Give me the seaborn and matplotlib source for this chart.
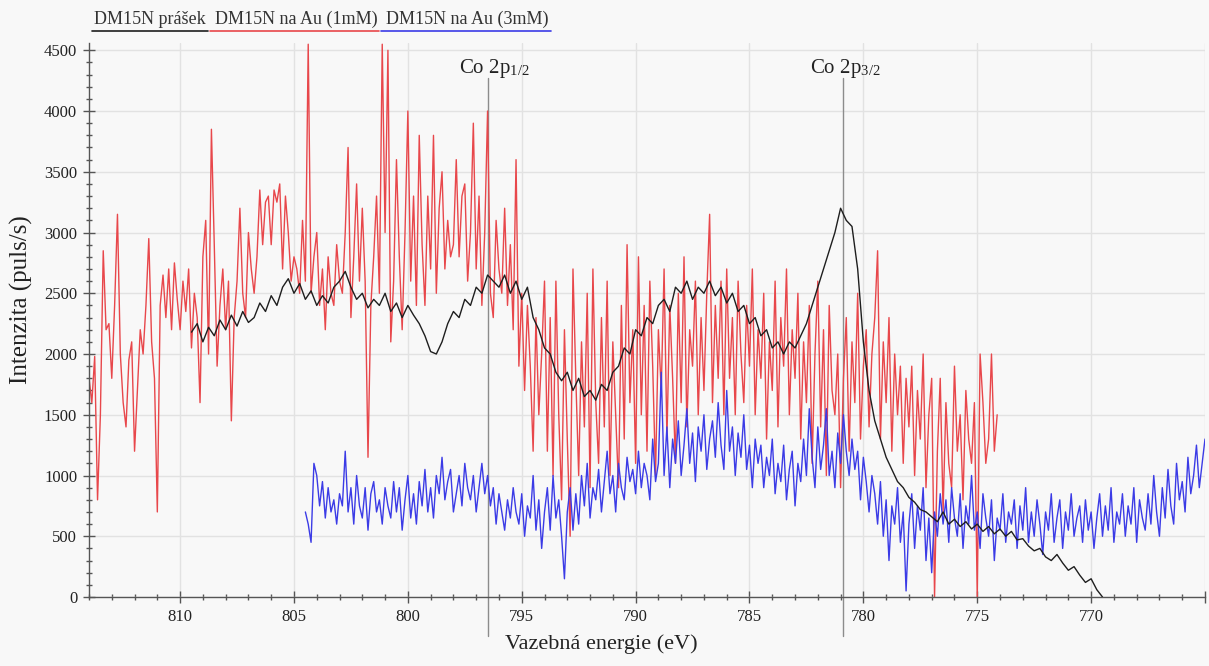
import numpy as np
import pandas as pd
import matplotlib
matplotlib.use("Agg")
import matplotlib.pyplot as plt
from matplotlib.lines import Line2D
from matplotlib.ticker import MultipleLocator
import seaborn as sns

# Co 2p spectra, binding energy decreasing from each start value
powder_start, powder_step = 809.5, 0.25
powder_counts = [
    2180, 2250, 2100, 2220, 2150, 2280, 2200, 2320, 2230, 2350, 2260, 2300, 2420, 2350, 2480, 2400,
    2550, 2620, 2500, 2580, 2450, 2520, 2400, 2480, 2420, 2550, 2600, 2680, 2550, 2450, 2500, 2380,
    2450, 2400, 2500, 2350, 2420, 2300, 2400, 2320, 2250, 2150, 2020, 2000, 2100, 2250, 2350, 2300,
    2450, 2400, 2550, 2500, 2650, 2600, 2550, 2650, 2500, 2600, 2450, 2550, 2300, 2200, 2050, 2000,
    1850, 1780, 1850, 1700, 1800, 1650, 1700, 1620, 1750, 1700, 1850, 1900, 2050, 2000, 2200, 2150,
    2300, 2250, 2400, 2450, 2350, 2550, 2500, 2600, 2450, 2550, 2500, 2600, 2480, 2550, 2420, 2500,
    2350, 2400, 2250, 2300, 2150, 2200, 2050, 2100, 2000, 2100, 2050, 2150, 2250, 2400, 2550, 2700,
    2850, 3000, 3200, 3100, 3050, 2700, 2100, 1700, 1450, 1300, 1150, 1050, 950, 900, 820, 780,
    720, 700, 660, 620, 700, 600, 640, 580, 620, 560, 600, 540, 580, 520, 560, 500,
    540, 470, 480, 420, 380, 400, 330, 300, 350, 280, 220, 250, 180, 120, 150, 60,
    0,
]

au1_start, au1_step = 814.0, 0.125
au1_counts = [
    1800, 1600, 1980, 800, 1500, 2850, 2200, 2250, 1800, 2400, 3150, 2000, 1600, 1400, 1950, 2100,
    1200, 1700, 2200, 2000, 2400, 2950, 2100, 1800, 700, 2400, 2650, 2300, 2700, 2200, 2750, 2450,
    2200, 2600, 2350, 2700, 2050, 2500, 2300, 1600, 2800, 3100, 2000, 3850, 2900, 1900, 2400, 2700,
    2200, 2600, 1450, 2300, 2600, 3200, 2500, 2300, 3000, 2700, 2500, 2800, 3350, 2900, 3250, 3300,
    2900, 3350, 3250, 3400, 2700, 3300, 3000, 2600, 2800, 2700, 2500, 3100, 2600, 4550, 2500, 2800,
    3000, 2400, 2700, 2200, 2800, 2500, 2400, 2900, 2600, 2500, 3000, 3700, 2300, 2800, 3400, 2600,
    3200, 2600, 1150, 2400, 2800, 3300, 2500, 4550, 3000, 4500, 2100, 2600, 3600, 2800, 2200, 3000,
    4000, 2600, 3300, 2400, 3800, 2900, 2400, 3300, 2700, 3800, 2500, 3200, 3500, 2700, 3100, 2800,
    2900, 3600, 2800, 3300, 3400, 2600, 3000, 3900, 2700, 3300, 2400, 3000, 4000, 2500, 2300, 3100,
    2700, 2500, 3200, 2400, 2900, 2200, 3600, 1900, 2500, 1700, 2400, 1900, 1200, 2300, 1500, 2000,
    2600, 1200, 2300, 1000, 2600, 1500, 800, 2200, 1300, 500, 2700, 1800, 1000, 2100, 1400, 2500,
    900, 2700, 1600, 1100, 2300, 1400, 2600, 1000, 2100, 1500, 900, 2400, 1300, 2900, 1600, 2200,
    1100, 2800, 1500, 2400, 1200, 2600, 1900, 1000, 2200, 1700, 2700, 1300, 2400, 1800, 1100, 2500,
    1600, 2800, 1400, 2200, 1900, 2600, 1500, 2300, 1700, 2500, 3150, 1600, 2400, 1800, 2600, 1500,
    2700, 1800, 2300, 1500, 2600, 2000, 1600, 2400, 1900, 2700, 1500, 2200, 1800, 2500, 1300, 2100,
    1700, 2600, 1400, 2300, 1900, 2700, 1500, 2200, 1800, 2500, 1300, 2100, 1600, 2400, 1100, 2000,
    2600, 1400, 2200, 1000, 2400, 1700, 1500, 2000, 900, 1800, 2300, 1200, 2100, 1600, 2500, 1300,
    1900, 2200, 1400, 2000, 2300, 2850, 1300, 2100, 1600, 2300, 1200, 2000, 1500, 1900, 1100, 1800,
    1400, 1900, 1000, 1700, 1300, 2000, 900, 1500, 1800, 0, 1200, 1800, 700, 1600, 1100, 900,
    1900, 1200, 1500, 800, 1700, 1300, 1100, 1600, 0, 2000, 1600, 1100, 1300, 2000, 1200, 1500,
]

au3_start, au3_step = 804.5, 0.125
au3_counts = [
    700, 600, 450, 1100, 1000, 750, 950, 650, 900, 700, 800, 600, 850, 750, 1200, 700,
    900, 600, 1000, 750, 650, 900, 550, 850, 950, 700, 800, 600, 900, 750, 650, 950,
    700, 900, 550, 800, 1000, 650, 850, 600, 950, 750, 1050, 700, 900, 650, 1000, 850,
    1150, 800, 950, 1050, 700, 850, 1000, 750, 1100, 900, 800, 1000, 700, 900, 1100, 850,
    1000, 750, 900, 600, 850, 700, 550, 800, 650, 900, 700, 600, 850, 500, 750, 650,
    1000, 550, 800, 400, 700, 900, 550, 1000, 650, 800, 500, 150, 700, 900, 550, 850,
    600, 1000, 750, 1100, 650, 900, 800, 1050, 700, 950, 1200, 850, 1000, 700, 1100, 900,
    800, 1150, 950, 1050, 850, 1200, 900, 1100, 1000, 800, 1300, 950, 1100, 1850, 1000, 1400,
    900, 1300, 1100, 1450, 1000, 1250, 1550, 1100, 1350, 950, 1400, 1200, 1500, 1050, 1300, 1450,
    1150, 1600, 1250, 1050, 1700, 1200, 1400, 1000, 1350, 1150, 1500, 1050, 1250, 900, 1300, 1100,
    1250, 900, 1150, 1000, 1300, 850, 1100, 950, 1250, 800, 1050, 1200, 750, 1100, 950, 1300,
    1000, 1550, 1150, 900, 1400, 1050, 1250, 1550, 1000, 1200, 900, 1350, 1100, 1500, 1200, 1000,
    1300, 1050, 1200, 800, 1150, 950, 700, 1000, 850, 600, 950, 500, 800, 300, 750, 600,
    900, 450, 700, 50, 600, 850, 400, 750, 550, 900, 300, 650, 200, 700, 500, 850,
    600, 800, 450, 900, 650, 500, 850, 400, 750, 600, 1000, 550, 700, 400, 850, 650,
    500, 800, 300, 650, 550, 850, 450, 700, 600, 800, 400, 750, 550, 900, 450, 700,
    500, 800, 600, 350, 700, 550, 850, 450, 650, 800, 400, 700, 550, 850, 500, 650,
    750, 450, 800, 550, 700, 400, 650, 850, 500, 750, 550, 900, 450, 700, 600, 850,
    500, 750, 600, 900, 450, 800, 650, 550, 850, 600, 1000, 700, 500, 900, 650, 1050,
    750, 600, 1100, 800, 950, 700, 1150, 850, 1000, 1250, 900, 1100, 1300,
]

series_names = ["DM15N prášek", "DM15N na Au (1mM)", "DM15N na Au (3mM)"]
series_colors = ["#1e1e1e", "#e8474b", "#3b3be6"]
series_starts = [powder_start, au1_start, au3_start]
series_steps = [powder_step, au1_step, au3_step]
series_counts = [powder_counts, au1_counts, au3_counts]

peak_energies = [796.5, 780.9]
peak_labels = [r"Co 2p$_{\mathregular{1/2}}$", r"Co 2p$_{\mathregular{3/2}}$"]
peak_label_shift = [-0.3, -0.1]

frames = []
for name, start, step, counts in zip(series_names, series_starts, series_steps, series_counts):
    energy = start - step * np.arange(len(counts))
    frames.append(pd.DataFrame({"energie": energy, "intenzita": counts, "vzorek": name}))
df = pd.concat(frames, ignore_index=True)

sns.set_theme(style="white")
bg = "#f8f8f8"
plt.rcParams["font.family"] = ["Liberation Serif", "DejaVu Serif"]
plt.rcParams["mathtext.fontset"] = "stix"

fig = plt.figure(figsize=(12.09, 6.66), dpi=100, facecolor=bg)
ax = fig.add_axes([89 / 1209, 1 - 597 / 666, (1205 - 89) / 1209, (597 - 43) / 666])
ax.set_facecolor(bg)

palette = dict(zip(series_names, series_colors))
# red first, then blue, powder curve on top
draw_order = [series_names[1], series_names[2], series_names[0]]
sns.lineplot(data=df, x="energie", y="intenzita", hue="vzorek", hue_order=draw_order,
             palette=palette, estimator=None, sort=False, linewidth=1.0,
             legend=False, ax=ax)

ax.set_xlim(814.0, 765.0)
ax.set_ylim(0, 4560)

ax.set_xticks([810, 805, 800, 795, 790, 785, 780, 775, 770, 765],
              ["810", "805", "800", "795", "790", "785", "780", "775", "770", ""])
ax.xaxis.set_minor_locator(MultipleLocator(1))
ax.yaxis.set_major_locator(MultipleLocator(500))
ax.yaxis.set_minor_locator(MultipleLocator(100))

ax.grid(True, which="major", color="#e2e2e2", linewidth=1.0)
ax.set_axisbelow(True)

for side in ["top", "right"]:
    ax.spines[side].set_visible(False)
for side in ["left", "bottom"]:
    ax.spines[side].set_color("#555555")
    ax.spines[side].set_linewidth(1.0)

ax.tick_params(axis="both", which="both", bottom=True, left=True, top=False, right=False)
ax.tick_params(axis="both", which="major", direction="inout", length=9, width=1.0,
               color="#555555", labelsize=12, labelcolor="#222222", pad=4)
ax.tick_params(axis="both", which="minor", direction="inout", length=5, width=1.0,
               color="#555555")

ax.set_xlabel("Vazebná energie (eV)", fontsize=16, color="#222222", va="top")
ax.xaxis.set_label_coords(0.459, -0.068)
ax.set_ylabel("Intenzita (puls/s)", fontsize=18, color="#222222")
ax.yaxis.set_label_coords(-0.05, 0.536)

# peak markers
for e, lab, dx in zip(peak_energies, peak_labels, peak_label_shift):
    ax.axvline(e, ymin=-0.07, ymax=0.936, color="#8c8c8c", linewidth=1.0, clip_on=False, zorder=1)
    ax.text(e + dx, 4317, lab, ha="center", va="baseline", fontsize=15, color="#222222")

# legend row above the plot: names underlined in series colour
fig.canvas.draw()
renderer = fig.canvas.get_renderer()
x_px = 94
prev_end = 92
for name, col in zip(series_names, series_colors):
    t = fig.text(x_px / 1209, 1 - 19 / 666, name, fontsize=13, color="#333333",
                 ha="left", va="center")
    bb = t.get_window_extent(renderer)
    end = bb.x1 + 2
    fig.add_artist(Line2D([prev_end / 1209, end / 1209], [1 - 31 / 666, 1 - 31 / 666],
                          transform=fig.transFigure, color=col, linewidth=1.2))
    prev_end = end + 2
    x_px = bb.x1 + 9

fig.savefig("out.png", dpi=100, facecolor=bg)
